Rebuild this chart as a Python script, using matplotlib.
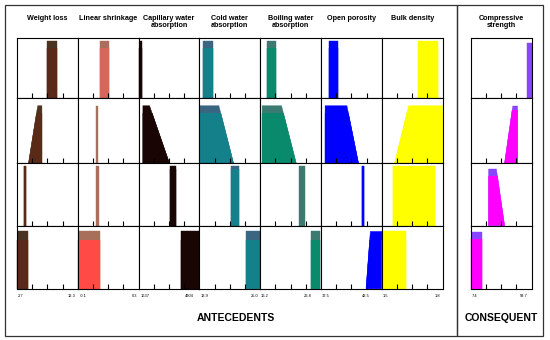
import matplotlib
matplotlib.use("Agg")
import matplotlib.pyplot as plt
from matplotlib.patches import Rectangle

plt.rcParams['font.family'] = ['Liberation Sans', 'DejaVu Sans']

# ---- data: variables, ranges, membership shapes (normalised x, per rule) ----
titles = ["Weight loss", "Linear shrinkage", "Capillary water\nabsorption",
          "Cold water\nabsorption", "Boiling water\nabsorption", "Open porosity",
          "Bulk density", "Compressive\nstrength"]
range_min = ["2.7", "-0.1", "1637", "13.9", "16.2", "17.5", "1.5", "7.4"]
range_max = ["12.3", "0.3", "4904", "25.0", "26.8", "42.5", "1.8", "59.7"]

weight_loss = [(0.49, 0.49, 0.65, 0.65), (0.19, 0.34, 0.41, 0.41),
               (0.11, 0.11, 0.15, 0.15), (0.0, 0.0, 0.175, 0.175)]
linear_shrinkage = [(0.37, 0.37, 0.52, 0.52), (0.305, 0.305, 0.34, 0.34),
                    (0.305, 0.305, 0.345, 0.345), (0.0, 0.0, 0.37, 0.37)]
capillary_abs = [(0.0, 0.0, 0.06, 0.06), (0.07, 0.07, 0.18, 0.505),
                 (0.51, 0.51, 0.615, 0.615), (0.70, 0.70, 1.0, 1.0)]
cold_abs = [(0.066, 0.066, 0.23, 0.23), (0.0, 0.0, 0.32, 0.56),
            (0.52, 0.52, 0.65, 0.65), (0.77, 0.77, 1.0, 1.0)]
boiling_abs = [(0.11, 0.11, 0.26, 0.26), (0.03, 0.03, 0.35, 0.59),
               (0.63, 0.63, 0.73, 0.73), (0.84, 0.84, 0.98, 0.98)]
open_porosity = [(0.137, 0.137, 0.275, 0.275), (0.066, 0.066, 0.425, 0.615),
                 (0.665, 0.665, 0.70, 0.70), (0.74, 0.81, 1.0, 1.0)]
bulk_density = [(0.60, 0.60, 0.92, 0.92), (0.21, 0.44, 1.0, 1.0),
                (0.18, 0.18, 0.88, 0.88), (0.0, 0.0, 0.40, 0.40)]
compressive = [(0.92, 0.92, 1.0, 1.0), (0.555, 0.69, 0.77, 0.77),
               (0.29, 0.29, 0.42, 0.555), (0.0, 0.0, 0.18, 0.18)]
variables = [weight_loss, linear_shrinkage, capillary_abs, cold_abs,
             boiling_abs, open_porosity, bulk_density, compressive]

# shape heights per rule and firing (fill) level per rule x variable
mf_height = [0.944, 0.874, 0.95, 0.906]
mf_height_cons = [0.914, 0.87, 0.904, 0.90]
fire = [
    [0.82, 0.82, 0.82, 0.82, 0.82, 0.82, 0.82, 0.0],
    [0.77, 0.0, 0.77, 0.77, 0.77, 0.77, 0.77, 0.807],
    [0.95, 0.0, 0.90, 0.90, 0.0, 0.95, 0.95, 0.80],
    [0.775, 0.775, 0.775, 0.775, 0.775, 0.775, 0.775, 0.79],
]

# ---- style ----
body_colors = ["#5a2a18", "#ff4a45", "#1a0505", "#14808a", "#0a8a6c", "#0000ff", "#ffff00", "#ff00ff"]
cap_colors = ["#4a3320", "#a8705a", "#1a0505", "#3a6682", "#3a7a70", "#0000ff", "#ffff00", "#8844ff"]
body_override = {(0, 1): "#d4675a"}
min_pos = [0.06, 0.09, 0.107, 0.085, 0.08, 0.08, 0.06, 0.06]
max_pos = [0.90, 0.93, 0.83, 0.90, 0.78, 0.74, 0.91, 0.88]

W, H = 550, 340
fig = plt.figure(figsize=(W / 100, H / 100), dpi=100)

row_edges = [37.5, 97.5, 163.0, 225.5, 288.5]
left0, right0 = 17.0, 442.7
col_w = (right0 - left0) / 7
cons_left, cons_right = 471.0, 531.5


def add_ax(x0, x1, y0, y1):
    return fig.add_axes([x0 / W, 1 - y1 / H, (x1 - x0) / W, (y1 - y0) / H])


def style_ax(ax):
    ax.set_xlim(0, 1)
    ax.set_ylim(0, 1)
    ax.set_xticks([0.25, 0.5, 0.75])
    ax.set_yticks([])
    ax.tick_params(axis='x', direction='in', length=3.5, width=0.8,
                   labelbottom=False, color='black')
    for s in ax.spines.values():
        s.set_linewidth(0.8)
        s.set_color('black')


for r in range(4):
    y0, y1 = row_edges[r], row_edges[r + 1]
    for v in range(8):
        if v < 7:
            x0 = left0 + v * col_w
            x1 = x0 + col_w
            top = mf_height[r]
        else:
            x0, x1 = cons_left, cons_right
            top = mf_height_cons[r]
        ax = add_ax(x0, x1, y0, y1)
        style_ax(ax)
        a, b, c, d = variables[v][r]
        xs = [a, b, c, d]
        ys = [0, top, top, 0]
        ax.fill(xs, ys, facecolor=cap_colors[v], edgecolor=cap_colors[v], lw=0.3)
        f = fire[r][v]
        if f > 0:
            col = body_override.get((r, v), body_colors[v])
            poly = ax.fill(xs, ys, facecolor=col, edgecolor=col, lw=0.3)[0]
            clip = Rectangle((-1, 0), 3, f, transform=ax.transData)
            poly.set_clip_path(clip)
        if r == 0:
            ax.text(0.5, 1 + 23 / (y1 - y0), titles[v], transform=ax.transAxes,
                    ha='center', va='top', fontsize=5.2, fontweight='bold',
                    linespacing=1.15)
        if r == 3:
            ax.text(min_pos[v], -7.5 / (y1 - y0), range_min[v], transform=ax.transAxes,
                    ha='center', va='center', fontsize=2.9)
            ax.text(max_pos[v], -7.5 / (y1 - y0), range_max[v], transform=ax.transAxes,
                    ha='center', va='center', fontsize=2.9)

# frames
for (bx0, bx1) in [(4.5, 457.0), (457.0, 543.0)]:
    fig.add_artist(Rectangle((bx0 / W, 1 - 336 / H), (bx1 - bx0) / W, (336 - 4.5) / H,
                             transform=fig.transFigure, fill=False,
                             edgecolor='#333333', lw=0.9))

fig.text(236 / W, 1 - 318 / H, "ANTECEDENTS", ha='center', va='center',
         fontsize=7.5, fontweight='bold')
fig.text(501 / W, 1 - 318 / H, "CONSEQUENT", ha='center', va='center',
         fontsize=7.5, fontweight='bold')

fig.savefig("out.png", dpi=100)
